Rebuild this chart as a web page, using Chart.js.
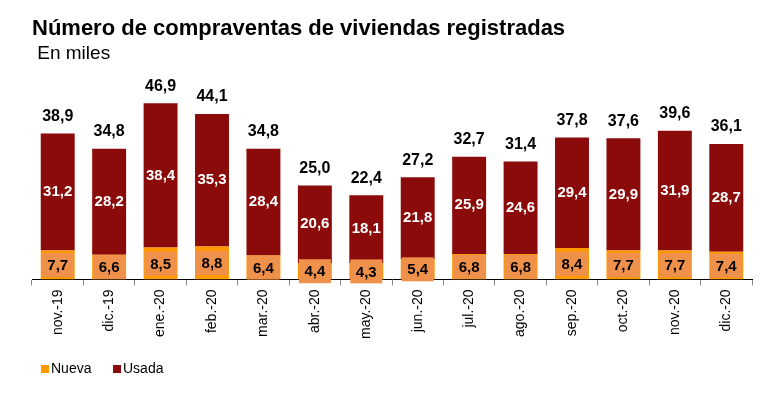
<!DOCTYPE html>
<html>
<head>
<meta charset="utf-8">
<script src="https://cdn.jsdelivr.net/npm/chart.js@4.4.1/dist/chart.umd.min.js"></script>
<style>
  html, body { margin: 0; padding: 0; background: #fff; }
  #wrap { width: 780px; height: 396px; }
</style>
</head>
<body>
<div id="wrap"><canvas id="c" width="780" height="396"></canvas></div>
<script>
var meses = ["nov.-19", "dic.-19", "ene.-20", "feb.-20", "mar.-20", "abr.-20", "may.-20",
             "jun.-20", "jul.-20", "ago.-20", "sep.-20", "oct.-20", "nov.-20", "dic.-20"];
var nueva = [7.7, 6.6, 8.5, 8.8, 6.4, 4.4, 4.3, 5.4, 6.8, 6.8, 8.4, 7.7, 7.7, 7.4];
var usada = [31.2, 28.2, 38.4, 35.3, 28.4, 20.6, 18.1, 21.8, 25.9, 24.6, 29.4, 29.9, 31.9, 28.7];
var totales = [38.9, 34.8, 46.9, 44.1, 34.8, 25.0, 22.4, 27.2, 32.7, 31.4, 37.8, 37.6, 39.6, 36.1];

var FONT = '"Liberation Sans", Arial, sans-serif';
var colNueva = '#ff9900', colUsada = '#8b0a0a';

function fmt(v) { return v.toFixed(1).replace('.', ','); }

// etiquetas de valores y leyenda propia
var etiquetas = {
  id: 'etiquetas',
  afterDatasetsDraw: function(chart) {
    var ctx = chart.ctx;
    var mNueva = chart.getDatasetMeta(0);
    var mUsada = chart.getDatasetMeta(1);
    ctx.save();
    ctx.textAlign = 'center';
    ctx.textBaseline = 'middle';
    mNueva.data.forEach(function(bar, i) {
      var cy = (bar.y + bar.base) / 2;
      ctx.fillStyle = '#f0914b';
      ctx.fillRect(bar.x - bar.width / 2 + 1, cy - 12, bar.width - 2, 24);
      ctx.fillStyle = '#000';
      ctx.font = 'bold 15px ' + FONT;
      ctx.fillText(fmt(nueva[i]), bar.x, cy + 1);
    });
    mUsada.data.forEach(function(bar, i) {
      var cy = (bar.y + bar.base) / 2;
      ctx.fillStyle = '#fff';
      ctx.font = 'bold 15px ' + FONT;
      ctx.fillText(fmt(usada[i]), bar.x, cy);
      ctx.fillStyle = '#000';
      ctx.font = 'bold 16px ' + FONT;
      ctx.fillText(fmt(totales[i]), bar.x, bar.y - 17);
    });

    // leyenda
    var ly = 369;
    ctx.textAlign = 'left';
    ctx.font = '14px ' + FONT;
    [['Nueva', colNueva, 41], ['Usada', colUsada, 113]].forEach(function(it) {
      ctx.fillStyle = it[1];
      ctx.fillRect(it[2], ly - 4, 8, 8);
      ctx.fillStyle = '#000';
      ctx.fillText(it[0], it[2] + 10, ly);
    });
    ctx.restore();
  }
};

new Chart(document.getElementById('c'), {
  type: 'bar',
  data: {
    labels: meses,
    datasets: [
      { label: 'Nueva', data: nueva, backgroundColor: colNueva, barPercentage: 0.66, categoryPercentage: 1 },
      { label: 'Usada', data: usada, backgroundColor: colUsada, barPercentage: 0.66, categoryPercentage: 1 }
    ]
  },
  options: {
    responsive: false,
    animation: false,
    layout: { padding: { left: 32, right: 28, top: 16, bottom: 53 } },
    scales: {
      x: {
        stacked: true,
        grid: { display: true, drawOnChartArea: false, drawTicks: true, tickLength: 6, color: '#888' },
        border: { display: true, color: '#000', width: 1 },
        ticks: {
          color: '#000', maxRotation: 90, minRotation: 90, padding: 4,
          font: { family: FONT, size: 14 }
        }
      },
      y: { stacked: true, display: false, min: 0, max: 56 }
    },
    plugins: {
      title: {
        display: true, align: 'start', text: 'Número de compraventas de viviendas registradas',
        color: '#000', font: { family: FONT, size: 22, weight: 'bold' },
        padding: { top: 0, bottom: 0 }
      },
      subtitle: {
        display: true, align: 'start', text: ' En miles',
        color: '#000', font: { family: FONT, size: 19 },
        padding: { top: 0, bottom: 4 }
      },
      legend: { display: false },
      tooltip: { enabled: false }
    }
  },
  plugins: [etiquetas]
});
</script>
</body>
</html>
